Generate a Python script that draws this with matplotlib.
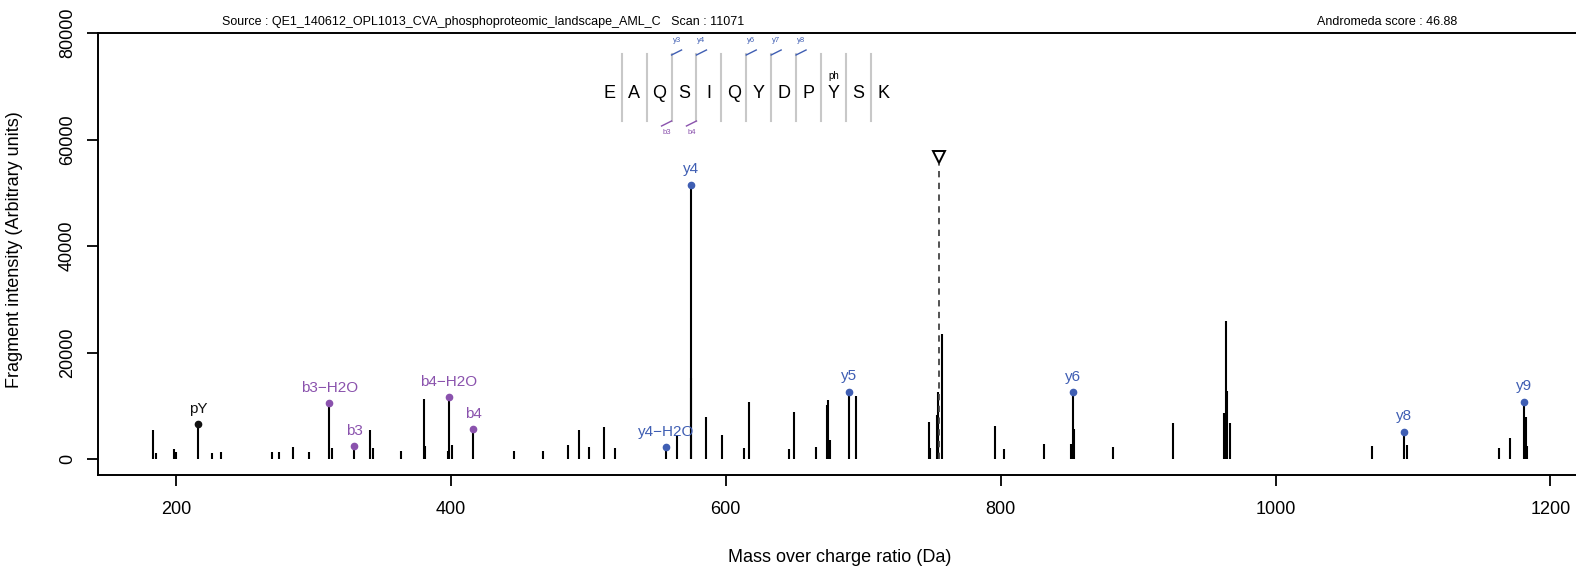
import matplotlib
matplotlib.use("Agg")
import matplotlib.pyplot as plt

plt.rcParams['font.family'] = ['Liberation Sans', 'DejaVu Sans']

# ---------------- data ----------------
peak_mz = [183.31, 185.40, 198.31, 200.0, 226.22, 232.47, 269.81, 275.18, 285.11, 297.03,
           313.21, 341.12, 343.11, 363.66, 380.45, 381.44, 397.63, 400.61, 446.19, 466.75,
           485.42, 493.46, 500.51, 511.44, 519.38, 564.27, 574.90, 585.62, 597.44, 613.43,
           616.90, 646.20, 649.58, 665.37, 673.81, 674.60, 675.79, 694.46, 747.79, 748.49,
           753.85, 754.75, 757.13, 796.06, 802.41, 831.51, 851.18, 853.56, 881.96, 925.56,
           962.50, 963.69, 964.29, 966.87, 1070.35, 1095.38, 1162.51, 1170.76, 1181.98, 1182.67]
peak_int = [5400, 1200, 1800, 1350, 1200, 1350, 1400, 1400, 2300, 1400,
            2100, 5400, 2100, 1500, 11200, 2500, 1500, 2600, 1500, 1550,
            2600, 5400, 2200, 6000, 2000, 4500, 15300, 7800, 4500, 2000,
            10700, 1800, 8900, 2300, 10100, 11000, 3500, 11900, 6900, 2000,
            8200, 12600, 23500, 6200, 1900, 2900, 2800, 5700, 2300, 6700,
            8700, 26000, 12800, 6800, 2400, 2700, 2000, 4000, 7800, 2400]

ion_labels = ["pY", "b3\u2212H2O", "b3", "b4\u2212H2O", "b4", "y4\u2212H2O",
              "y4", "y5", "y6", "y8", "y9"]
ion_mz = [216.29, 311.53, 329.50, 398.42, 416.30, 556.52, 574.40, 689.30, 852.37, 1093.69, 1180.49]
ion_int = [6560, 10550, 2440, 11560, 5560, 2250, 51500, 12650, 12550, 5120, 10740]
ion_type = ["imm", "b", "b", "b", "b", "y", "y", "y", "y", "y", "y"]

precursor_mz = 755.14
precursor_int = 56700

sequence = ["E", "A", "Q", "S", "I", "Q", "Y", "D", "P", "Y", "S", "K"]
seq_y_ions = {3: "y3", 4: "y4", 6: "y6", 7: "y7", 8: "y8"}   # separator index -> label
seq_b_ions = {3: "b3", 4: "b4"}
seq_mod = {9: "ph"}

x_ticks = [200, 400, 600, 800, 1000, 1200]
y_ticks = [0, 20000, 40000, 60000, 80000]

header_left = "Source : QE1_140612_OPL1013_CVA_phosphoproteomic_landscape_AML_C   Scan : 11071"
header_right = "Andromeda score : 46.88"
xlabel = "Mass over charge ratio (Da)"
ylabel = "Fragment intensity (Arbitrary units)"

# ---------------- style ----------------
W, H = 1576, 571
COL = {"y": "#3f5eb3", "b": "#8a52ad", "imm": "#111111"}
GRAY = "#c8c8c8"

fig = plt.figure(figsize=(W / 100, H / 100), dpi=100)
ax = fig.add_axes([98 / W, (H - 475) / H, (1592 - 98) / W, (475 - 33) / H])
ax.set_xlim(143.25, 1230.2)
ax.set_ylim(-3000, 80000)

ax.vlines(peak_mz, 0, peak_int, color="black", lw=1.5)
for lab, mz, it, t in zip(ion_labels, ion_mz, ion_int, ion_type):
    c = COL[t]
    ax.vlines(mz, 0, it, color="black", lw=1.5)
    ax.plot(mz, it, "o", color=c, ms=4.5, zorder=5)
    ax.annotate(lab, (mz, it), xytext=(0, 6), textcoords="offset points",
                ha="center", va="bottom", color=c, fontsize=11)

ax.vlines(precursor_mz, 0, precursor_int - 1200, color="#444444", lw=1.3,
          linestyles=(0, (3.5, 3)))
ax.plot(precursor_mz, precursor_int, marker="v", ms=9, mfc="white", mec="black",
        mew=1.4, zorder=6)

ax.spines["right"].set_visible(False)
for s in ["left", "bottom", "top"]:
    ax.spines[s].set_linewidth(1.4)

ax.set_xticks(x_ticks)
ax.set_xticklabels([str(v) for v in x_ticks])
ax.set_yticks(y_ticks)
ax.set_yticklabels([str(v) for v in y_ticks], rotation=90, va="center")
ax.tick_params(axis="both", direction="out", length=8, width=1.3, labelsize=13)
ax.tick_params(axis="x", pad=11)
ax.tick_params(axis="y", pad=8)

def P(x, y):
    return x / W, 1 - y / H

fig.text(*P(840, 558), xlabel, ha="center", va="center", fontsize=13)
fig.text(*P(15, 250), ylabel, ha="center", va="center", fontsize=13, rotation=90)
fig.text(*P(222, 22), header_left, ha="left", va="center", fontsize=9)
fig.text(*P(1387, 22), header_right, ha="center", va="center", fontsize=9)

# sequence annotation
x0, dx = 609.3, 24.9
for i, aa in enumerate(sequence):
    fig.text(*P(x0 + i * dx, 94), aa, ha="center", va="center", fontsize=13)
for i in range(1, len(sequence)):
    xs = x0 + (i - 0.5) * dx
    fig.add_artist(plt.Line2D([xs / W, xs / W], [1 - 54 / H, 1 - 121 / H],
                              color=GRAY, lw=1.5, transform=fig.transFigure))
for i, lab in seq_y_ions.items():
    xs = x0 + (i - 0.5) * dx
    fig.add_artist(plt.Line2D([xs / W, (xs + 10) / W], [1 - 55 / H, 1 - 50 / H],
                              color=COL["y"], lw=1.0, transform=fig.transFigure))
    fig.text(*P(xs + 5, 41), lab, ha="center", va="center", fontsize=5.5, color=COL["y"])
for i, lab in seq_b_ions.items():
    xs = x0 + (i - 0.5) * dx
    fig.add_artist(plt.Line2D([xs / W, (xs - 10) / W], [1 - 121 / H, 1 - 126 / H],
                              color=COL["b"], lw=1.0, transform=fig.transFigure))
    fig.text(*P(xs - 5, 133), lab, ha="center", va="center", fontsize=5.5, color=COL["b"])
for i, lab in seq_mod.items():
    fig.text(*P(x0 + i * dx, 76), lab, ha="center", va="center", fontsize=7)

fig.savefig("out.png", dpi=100)
